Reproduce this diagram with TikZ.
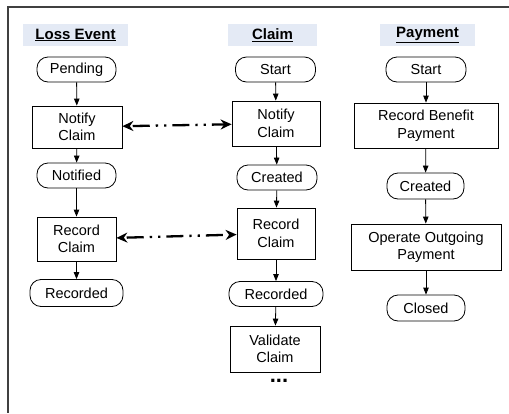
\documentclass[tikz,border=0pt]{standalone}
\usepackage{fontspec}
\setmainfont{Liberation Sans}
\usetikzlibrary{arrows.meta}
\definecolor{headbg}{RGB}{228,234,245}
\tikzset{
  every node/.style={font=\fontsize{14.5}{17.5}\selectfont, align=center, inner sep=0pt},
  head/.style={fill=headbg, minimum height=22pt, font=\fontsize{15}{17}\selectfont\bfseries},
  state/.style={draw, line width=0.8pt, rounded corners=11pt, minimum height=25pt},
  task/.style={draw, line width=0.8pt, minimum height=44pt},
  flow/.style={line width=0.8pt, -{Triangle[length=7pt,width=5.5pt]}},
  sync/.style={line width=2.3pt, {Stealth[length=11pt,width=10pt]}-{Stealth[length=11pt,width=10pt]},
    dash pattern=on 17pt off 6pt on 2.3pt off 6pt on 2.3pt off 6pt, dash phase=36pt}
}
\begin{document}
\begin{tikzpicture}[x=1pt,y=-1pt]
  \useasboundingbox (0,0) rectangle (509,413);
  \draw[line width=1.2pt, black!75] (509,7) -- (8,7) -- (8,413);
  % headers
  \draw
    (75.5,35) node[head, minimum width=105pt] (lhead) {\underline{Loss Event}}
    (272.5,35) node[head, minimum width=89pt] (chead) {\underline{Claim}}
    (427.5,35) node[head, minimum width=95pt] (phead) {\underline{Payment}};
  % loss event
  \draw
    (76.5,69.5) node[state, minimum width=79pt] (lpend) {Pending}
    (77,127) node[task, minimum width=90pt, minimum height=42pt] (lnot) {Notify\\Claim}
    (76.5,175.5) node[state, minimum width=79pt] (lnotd) {Notified}
    (76.5,239) node[task, minimum width=79pt] (lrec) {Record\\Claim}
    (76.5,293) node[state, minimum width=93pt, minimum height=27pt] (lrecd) {Recorded};
  % claim
  \draw
    (275.5,69.5) node[state, minimum width=80pt] (cstart) {Start}
    (276,123.5) node[task, minimum width=88pt, minimum height=45pt] (cnot) {Notify\\Claim}
    (277,177.5) node[state, minimum width=80pt] (ccre) {Created}
    (276,233.5) node[task, minimum width=78pt, minimum height=51pt] (crec) {Record\\Claim}
    (276,294) node[state, minimum width=94pt] (crecd) {Recorded}
    (275,349) node[task, minimum width=90pt, minimum height=46pt] (cval) {Validate\\Claim}
    (279,381) node[font=\fontsize{22}{22}\selectfont\bfseries] (cmore) {...};
  % payment
  \draw
    (426,69.5) node[state, minimum width=80pt] (pstart) {Start}
    (426,125.5) node[task, minimum width=144pt, minimum height=45pt] (pben) {Record Benefit\\Payment}
    (425.5,186) node[state, minimum width=77pt, minimum height=26pt] (pcre) {Created}
    (426,247) node[task, minimum width=150pt, minimum height=46pt] (pop) {Operate Outgoing\\Payment}
    (426,308) node[state, minimum width=78pt, minimum height=26pt] (pclo) {Closed};
  \begin{scope}[flow]
    \draw (lpend) to (lnot);
    \draw (lnot) to (lnotd);
    \draw (lnotd) to (lrec);
    \draw (lrec) to (lrecd);
    \draw (cstart) to (cnot);
    \draw (cnot) to (ccre);
    \draw (ccre) to (crec);
    \draw (crec) to (crecd);
    \draw (crecd) to (cval);
    \draw (pstart) to (pben);
    \draw (pben) to (pcre);
    \draw (pcre) to (pop);
    \draw (pop) to (pclo);
  \end{scope}
  \draw[sync] (lnot) to (cnot);
  \draw[sync] (lrec) to (crec);
\end{tikzpicture}
\end{document}
